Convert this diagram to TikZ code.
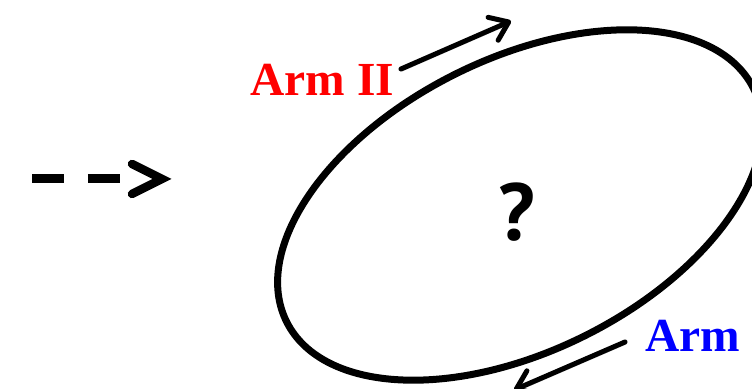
\documentclass[tikz,border=0pt]{standalone}
\usepackage{fontspec}
\setmainfont{Liberation Serif}
\newfontfamily\qfont{PT Sans}
\usetikzlibrary{arrows.meta,positioning,calc}

\tikzset{
    shade line/.style={preaction={draw=black!18, transform canvas={xshift=0.7pt,yshift=-1.2pt}}},
    loop line/.style={line width=0.14cm, shade line},
    arm arrow/.style={line width=0.1cm, line cap=round, shade line,
        -{Straight Barb[length=0.34cm, width=0.5cm, round]}},
    arm label/.style={font=\fontsize{27}{32}\selectfont\bfseries, inner sep=0pt, anchor=base west}
}

\begin{document}
\begin{tikzpicture}[x=0.02cm, y=0.02cm]
    \useasboundingbox (0,0) rectangle (752,389);
    \clip (0,0) rectangle (752,389);

    % Incoming (dashed) direction
    \coordinate (dashL) at (32,210);
    \coordinate (dashR) at (121,210);
    \coordinate (tip) at (162,210);
    \draw[line width=0.18cm, dash pattern=on 0.64cm off 0.48cm] (dashL) -- (dashR);
    \draw[line width=0.17cm, line cap=round, line join=miter, shade line]
        ($(tip)+(-30,15)$) -- (tip) -- ($(tip)+(-30,-15)$);

    % Closed loop
    \draw[loop line] (520,184) ellipse [x radius=261, y radius=146, rotate=26.6];
    \node[font=\qfont\fontsize{46}{50}\selectfont\bfseries] (quest) at (517,177) {?};

    % Arm II
    \node[arm label, text=red] (armII) at (250,293) {Arm II};
    \coordinate (armIIs) at (401,320);
    \coordinate (armIIe) at (511,368);
    \draw[arm arrow] (armIIs) -- (armIIe);

    % Arm I
    \node[arm label, text=blue] (armI) at (645,37) {Arm};
    \coordinate (armIs) at (625,47);
    \coordinate (armIe) at (514,-1);
    \draw[arm arrow] (armIs) -- (armIe);
\end{tikzpicture}
\end{document}
